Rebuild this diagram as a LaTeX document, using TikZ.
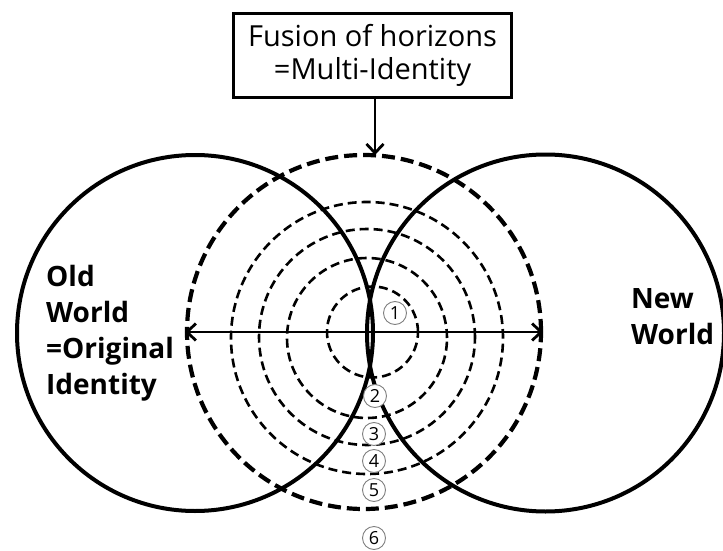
\documentclass[tikz,border=0pt]{standalone}
\usepackage{fontspec}
\setmainfont{Open Sans}
\usetikzlibrary{arrows.meta}
\begin{document}
\begin{tikzpicture}[x=1pt,y=-1pt,
  solidc/.style={line width=4pt},
  dashc/.style={line width=2.6pt,dash pattern=on 9pt off 5pt},
  dashthick/.style={line width=4.2pt,dash pattern=on 13pt off 6pt},
  lbl/.style={font=\fontsize{28}{36}\selectfont\bfseries,align=left,inner sep=0pt},
  num/.style={circle,draw=black!50,fill=white,line width=0.9pt,minimum size=23pt,inner sep=0pt,
    font=\fontsize{18}{18}\selectfont},
  arr/.style={line width=2.8pt,-{Straight Barb[length=9pt,width=17pt,line width=2.8pt]}}]
\useasboundingbox (0,0) rectangle (723,551);
% solid circles
\node[solidc,draw,circle,minimum size=356pt,inner sep=0pt] (L) at (195,333) {};
\node[solidc,draw,circle,minimum size=357pt,inner sep=0pt] (R) at (545.5,333) {};
% dashed circles
\coordinate (c) at (364,332);
\node[dashthick,draw,circle,minimum size=354pt,inner sep=0pt] (D5) at (c) {};
\node[dashc,draw,circle,minimum size=272pt,inner sep=0pt] (D4) at (367,338) {};
\node[dashc,draw,circle,minimum size=216pt,inner sep=0pt] (D3) at (367,337) {};
\node[dashc,draw,circle,minimum size=160pt,inner sep=0pt] (D2) at (367,338) {};
\node[dashc,draw,circle,minimum size=91pt,inner sep=0pt] (D1) at (372.5,332) {};
% horizontal double arrow
\draw[arr] (c) -- (D5.west);
\draw[arr] (c) -- (D5.east);
% box
\node[draw,line width=3.2pt,minimum width=278pt,minimum height=84pt,align=center,
  font=\fontsize{29}{33}\selectfont] (box) at (372.5,55.5) {Fusion of horizons\\=Multi-Identity};
\coordinate (top) at (375,98);
\coordinate (tip) at (375,155);
\draw[arr] (top) -- (tip);
% labels
\node[lbl,anchor=north west] (old) at (46,265) {Old\\World\\=Original\\Identity};
\node[lbl,anchor=north west] (new) at (631,288) {New\\World};
% numbers
\node[num] (n1) at (395,313) {1};
\node[num] (n2) at (375,396) {2};
\node[num] (n3) at (374,434) {3};
\node[num] (n4) at (374,461) {4};
\node[num] (n5) at (374,490) {5};
\node[num] (n6) at (374,538) {6};
\end{tikzpicture}
\end{document}
